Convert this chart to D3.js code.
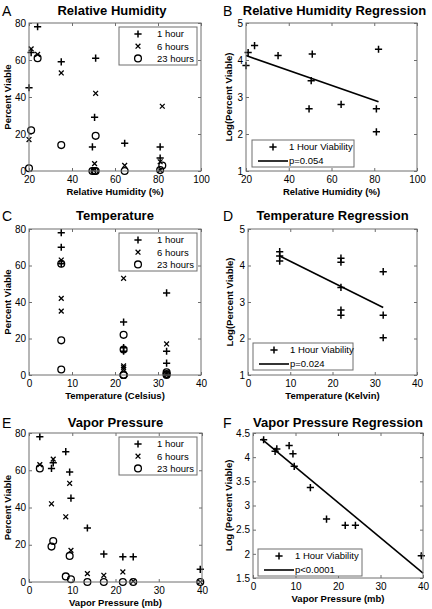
<!DOCTYPE html>
<html><head><meta charset="utf-8">
<script src="https://cdn.jsdelivr.net/npm/d3@7"></script>
<style>body{margin:0;background:#fff}svg{display:block;font-family:"Liberation Sans",Arial,Helvetica,sans-serif}</style>
</head><body><svg id="c" width="432" height="609"></svg>
<script>
// ---------- DATA ----------
// Panel A: Relative Humidity (%) vs Percent Viable
const rhX1 = [20, 21, 24, 35, 51, 50.5, 49.5, 64.5, 81, 81, 82];
const rhY1 = [45, 64, 78, 59, 61, 29, 13, 15, 13, 7, 72];
const rhX6 = [20, 21, 24, 35, 51, 50.5, 50, 64.5, 82, 81, 81];
const rhY6 = [17, 66, 63, 53, 42, 4, 0.5, 3, 35, 5, 0.5];
const rhX23 = [21, 20, 24, 35, 51, 49.5, 50.5, 51, 64.5, 81, 82];
const rhY23 = [22, 1.5, 61, 14, 19, 0, 0, 0, 0, 0.5, 3];
// Panel B: regression, log(percent viable) at 1 hour
const rhRegX = [20, 21, 24, 35, 51, 50.5, 49.5, 64.5, 81, 81, 82];
const rhRegY = [3.85, 4.2, 4.39, 4.12, 4.16, 3.44, 2.68, 2.8, 2.68, 2.06, 4.29];
const rhFitX = [20, 82];
const rhFitY = [4.12, 2.87];
// Panel C: Temperature (Celsius)
const tX = [7.5, 7.5, 7.5, 22, 22, 22, 22, 22, 32, 32, 32];
const tY1 = [78, 70, 61, 64, 59, 29, 15, 13, 45, 13, 6.5];
const tY6 = [63, 42, 35, 66, 53, 5, 4, 3, 17, 1, 0];
const tY23 = [61, 19, 3, 22, 14, 0, 0, 0, 1.5, 0.5, 0];
// Panel D: temperature regression
const tRegY = [4.38, 4.26, 4.12, 4.2, 4.09, 3.4, 2.78, 2.64, 3.83, 2.64, 2.02];
const tFitX = [7.5, 32];
const tFitY = [4.26, 2.85];
// Panel E: Vapor Pressure (mb)
const vpX = [2.5, 5.2, 5.6, 8.5, 9.4, 9.7, 13.5, 17.3, 21.7, 24.1, 39.6];
const vpY1 = [78, 61, 64, 70, 59, 45, 29, 15, 13.5, 13.5, 6.8];
const vpY6 = [63, 42, 66, 35, 53, 17, 4.5, 3.6, 5.4, 0.4, 0];
const vpY23 = [61, 19, 22, 3, 14, 1.5, 0, 0, 0, 0, 0];
// Panel F: vapor pressure regression
const vpRegY = [4.36, 4.12, 4.17, 4.24, 4.07, 3.81, 3.37, 2.72, 2.59, 2.59, 1.96];
const vpFitX = [2, 40];
const vpFitY = [4.38, 1.6];
// Ticks
const rhTicks = [20, 40, 60, 80, 100];
const c40Ticks = [0, 10, 20, 30, 40];
const pctTicks = [0, 20, 40, 60, 80];
const logTicks = [1, 2, 3, 4, 5];
const logTicksF = [1.5, 2, 2.5, 3, 3.5, 4, 4.5];
const seriesNames = ["1 hour", "6 hours", "23 hours"];

// ---------- DRAW ----------
const svg = d3.select("#c");
const AX = "#6e6e6e";
const zip = (a, b) => a.map((v, i) => [v, b[i]]);
const fmt = d => String(d);

const markers = {
  plus: "M-3.6,0H3.6M0,-3.6V3.6",
  cross: "M-2.4,-2.4L2.4,2.4M-2.4,2.4L2.4,-2.4",
};
function drawMarker(g, type, cx, cy) {
  if (type === "circle") {
    g.append("circle").attr("cx", cx).attr("cy", cy).attr("r", 3.4)
      .attr("fill", "none").attr("stroke", "#000").attr("stroke-width", 1.3);
  } else {
    g.append("path").attr("d", markers[type]).attr("transform", `translate(${cx},${cy})`)
      .attr("fill", "none").attr("stroke", "#000").attr("stroke-width", type === "plus" ? 1.5 : 1.3);
  }
}

function panel(p) {
  const x = d3.scaleLinear().domain(p.xd).range([p.x0, p.x1]);
  const y = d3.scaleLinear().domain(p.yd).range([p.y1, p.y0]);
  const g = svg.append("g");

  // marks
  p.series.forEach(s => {
    zip(s.x, s.y).forEach(d => drawMarker(g, s.m, x(d[0]), y(d[1])));
  });
  if (p.fit) {
    g.append("path").datum(zip(p.fit[0], p.fit[1]))
      .attr("d", d3.line().x(d => x(d[0])).y(d => y(d[1])))
      .attr("fill", "none").attr("stroke", "#000").attr("stroke-width", 1.6);
  }

  // axes (inward ticks on all sides)
  const ax = [
    d3.axisBottom(x).tickValues(p.xt).tickSize(-3).tickPadding(5).tickFormat(fmt),
    d3.axisTop(x).tickValues(p.xt).tickSize(-3).tickFormat(""),
    d3.axisLeft(y).tickValues(p.yt).tickSize(-3).tickPadding(3).tickFormat(fmt),
    d3.axisRight(y).tickValues(p.yt).tickSize(-3).tickFormat(""),
  ];
  const pos = [`translate(0,${p.y1})`, `translate(0,${p.y0})`, `translate(${p.x0},0)`, `translate(${p.x1},0)`];
  ax.forEach((a, i) => {
    const ag = g.append("g").attr("transform", pos[i]).call(a);
    ag.select(".domain").remove();
    ag.selectAll("line").attr("stroke", AX);
    ag.selectAll("text").attr("font-size", 10).attr("fill", "#000")
      .attr("font-family", '"Liberation Sans",Arial,sans-serif');
  });
  g.append("rect").attr("x", p.x0).attr("y", p.y0).attr("width", p.x1 - p.x0).attr("height", p.y1 - p.y0)
    .attr("fill", "none").attr("stroke", AX).attr("stroke-width", 1);

  // labels
  g.append("text").attr("x", (p.x0 + p.x1) / 2 + (p.tdx || 0)).attr("y", p.ty).attr("text-anchor", "middle")
    .attr("font-size", 13).attr("font-weight", "bold").text(p.title);
  g.append("text").attr("x", p.lx).attr("y", p.ty + 1).attr("font-size", 14).text(p.letter);
  g.append("text").attr("x", (p.x0 + p.x1) / 2).attr("y", p.y1 + 24).attr("text-anchor", "middle")
    .attr("font-size", 9.5).attr("font-weight", "bold").text(p.xlabel);
  g.append("text").attr("transform", `translate(${p.ylx},${(p.y0 + p.y1) / 2}) rotate(-90)`)
    .attr("text-anchor", "middle").attr("font-size", 9.5).attr("font-weight", "bold").text(p.ylabel);

  // legend
  const L = p.legend;
  const lg = g.append("g");
  lg.append("rect").attr("x", L.x).attr("y", L.y).attr("width", L.w).attr("height", L.h)
    .attr("fill", "#fff").attr("stroke", AX);
  L.items.forEach((it, i) => {
    const cy = L.y + L.r0 + i * L.dr;
    if (it.m === "line") {
      lg.append("line").attr("x1", L.x + 6).attr("x2", L.x + 36).attr("y1", cy).attr("y2", cy)
        .attr("stroke", "#000").attr("stroke-width", 1.6);
    } else {
      drawMarker(lg, it.m, L.mx, cy);
    }
    lg.append("text").attr("x", L.tx).attr("y", cy).attr("dy", "0.35em")
      .attr("font-size", 9.5).text(it.t);
  });
}

const threeLegend = (x, y) => ({
  x, y, w: 78, h: 38, r0: 7, dr: 12.2, mx: x + 19, tx: x + 38,
  items: [{ m: "plus", t: seriesNames[0] }, { m: "cross", t: seriesNames[1] }, { m: "circle", t: seriesNames[2] }],
});
const regLegend = (x, y, w, t) => ({
  x, y, w, h: 27, r0: 7, dr: 14, mx: x + 21, tx: x + 37,
  items: [{ m: "plus", t: "1 Hour Viability" }, { m: "line", t: t }],
});

panel({
  x0: 29, x1: 201, y0: 23, y1: 171, xd: [20, 100], yd: [0, 80], xt: rhTicks, yt: pctTicks,
  title: "Relative Humidity", letter: "A", lx: 2, ty: 15, tdx: -3, xlabel: "Relative Humidity (%)", ylabel: "Percent Viable", ylx: 11,
  series: [{ x: rhX1, y: rhY1, m: "plus" }, { x: rhX6, y: rhY6, m: "cross" }, { x: rhX23, y: rhY23, m: "circle" }],
  legend: threeLegend(119, 27),
});
panel({
  x0: 246, x1: 417, y0: 23, y1: 171, xd: [20, 100], yd: [1, 5], xt: rhTicks, yt: logTicks,
  title: "Relative Humidity Regression", letter: "B", lx: 223, ty: 15, tdx: 3, xlabel: "Relative Humidity (%)", ylabel: "Log(Percent Viable)", ylx: 232,
  series: [{ x: rhRegX, y: rhRegY, m: "plus" }], fit: [rhFitX, rhFitY],
  legend: regLegend(252, 140, 102, "p=0.054"),
});
panel({
  x0: 29, x1: 201, y0: 229, y1: 375, xd: [0, 40], yd: [0, 80], xt: c40Ticks, yt: pctTicks,
  title: "Temperature", letter: "C", lx: 2, ty: 220, xlabel: "Temperature (Celsius)", ylabel: "Percent Viable", ylx: 11,
  series: [{ x: tX, y: tY1, m: "plus" }, { x: tX, y: tY6, m: "cross" }, { x: tX, y: tY23, m: "circle" }],
  legend: threeLegend(119, 233),
});
panel({
  x0: 248, x1: 417, y0: 229, y1: 375, xd: [0, 40], yd: [1, 5], xt: c40Ticks, yt: logTicks,
  title: "Temperature Regression", letter: "D", lx: 223, ty: 220, xlabel: "Temperature (Kelvin)", ylabel: "Log(Percent Viable)", ylx: 233,
  series: [{ x: tX, y: tRegY, m: "plus" }], fit: [tFitX, tFitY],
  legend: regLegend(253, 343, 100, "p=0.024"),
});
panel({
  x0: 29, x1: 202, y0: 433, y1: 582, xd: [0, 40], yd: [0, 80], xt: c40Ticks, yt: pctTicks,
  title: "Vapor Pressure", letter: "E", lx: 2, ty: 427, xlabel: "Vapor Pressure (mb)", ylabel: "Percent Viable", ylx: 11,
  series: [{ x: vpX, y: vpY1, m: "plus" }, { x: vpX, y: vpY6, m: "cross" }, { x: vpX, y: vpY23, m: "circle" }],
  legend: threeLegend(119, 437),
});
panel({
  x0: 253, x1: 423, y0: 433, y1: 578, xd: [0, 40], yd: [1.5, 4.5], xt: c40Ticks, yt: logTicksF,
  title: "Vapor Pressure Regression", letter: "F", lx: 223, ty: 427, xlabel: "Vapor Pressure (mb)", ylabel: "Log (Percent Viable)", ylx: 232,
  series: [{ x: vpX, y: vpRegY, m: "plus" }], fit: [vpFitX, vpFitY],
  legend: regLegend(258, 549, 104, "p<0.0001"),
});
</script></body></html>
